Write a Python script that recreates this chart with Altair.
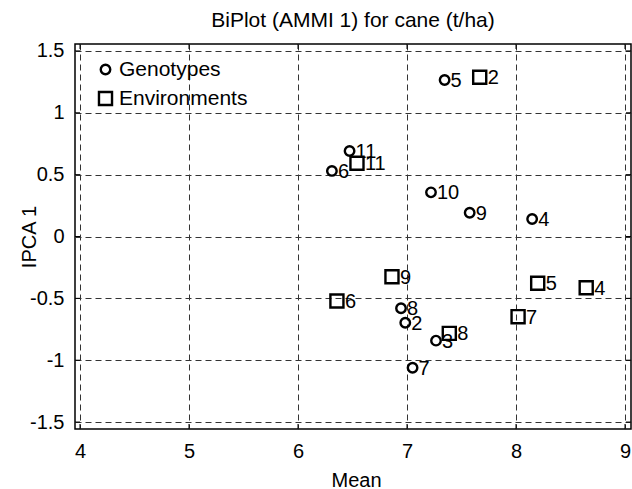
import altair as alt
import pandas as pd

# ---- data ----
genotype_ids = ["5", "11", "6", "10", "9", "4", "8", "2", "3", "7"]
genotype_mean = [7.345, 6.473, 6.311, 7.220, 7.575, 8.148, 6.945, 6.984, 7.266, 7.051]
genotype_ipca = [1.265, 0.691, 0.530, 0.357, 0.192, 0.141, -0.580, -0.697, -0.842, -1.061]

env_ids = ["2", "11", "9", "6", "8", "5", "4", "7"]
env_mean = [7.667, 6.541, 6.862, 6.357, 7.388, 8.199, 8.644, 8.019]
env_ipca = [1.287, 0.592, -0.325, -0.521, -0.783, -0.378, -0.414, -0.648]

x_ticks = [4, 5, 6, 7, 8, 9]
y_ticks = [-1.5, -1, -0.5, 0, 0.5, 1, 1.5]
groups = ["Genotypes", "Environments"]

FONT = "Liberation Sans"
W, H = 556, 385

df = pd.DataFrame(
    {
        "id": genotype_ids + env_ids,
        "mean": genotype_mean + env_mean,
        "ipca": genotype_ipca + env_ipca,
        "type": [groups[0]] * len(genotype_ids) + [groups[1]] * len(env_ids),
    }
)
xt = pd.DataFrame({"v": x_ticks})
yt = pd.DataFrame({"v": y_ticks})

xscale = alt.Scale(domain=[3.954, 9.055], nice=False, zero=False)
yscale = alt.Scale(domain=[-1.556, 1.556], nice=False, zero=False)

x_axis = alt.Axis(
    values=x_ticks, title="Mean", grid=True, ticks=False, domain=False,
    labelFontSize=20, labelPadding=12, labelFont=FONT, labelColor="black",
    labelExpr="'' + datum.value",
    titleFont=FONT, titleFontSize=20, titleFontWeight="normal", titleColor="black",
    titleBaseline="alphabetic", titleY=57, titleX=281,
)
y_axis = alt.Axis(
    values=y_ticks, title="IPCA 1", grid=True, ticks=False, domain=False,
    labelFontSize=20, labelPadding=11, labelFont=FONT, labelColor="black",
    labelExpr="'' + datum.value",
    titleFont=FONT, titleFontSize=20, titleFontWeight="normal", titleColor="black",
    titleBaseline="alphabetic", titleX=-40, titleY=H / 2, titleAngle=270,
)

base = alt.Chart(df)

points = base.mark_point(filled=False, color="black", strokeWidth=2.4, opacity=1).encode(
    x=alt.X("mean:Q", scale=xscale, axis=x_axis),
    y=alt.Y("ipca:Q", scale=yscale, axis=y_axis),
    shape=alt.Shape("type:N", scale=alt.Scale(domain=groups, range=["circle", "square"]),
                    legend=alt.Legend(title=None)),
    size=alt.Size("type:N", scale=alt.Scale(domain=groups, range=[90, 170]),
                  legend=alt.Legend(title=None)),
)

gen_labels = base.transform_filter(alt.datum.type == groups[0]).mark_text(
    align="left", baseline="middle", dx=6, dy=1, fontSize=20, font=FONT, color="black"
).encode(x=alt.X("mean:Q", scale=xscale), y=alt.Y("ipca:Q", scale=yscale), text="id:N")

env_labels = base.transform_filter(alt.datum.type == groups[1]).mark_text(
    align="left", baseline="middle", dx=8, dy=1, fontSize=20, font=FONT, color="black"
).encode(x=alt.X("mean:Q", scale=xscale), y=alt.Y("ipca:Q", scale=yscale), text="id:N")

tick_len = 5
bottom_ticks = alt.Chart(xt).mark_rule(color="black", strokeWidth=1).encode(
    x=alt.X("v:Q", scale=xscale), y=alt.value(H), y2=alt.value(H - tick_len))
top_ticks = alt.Chart(xt).mark_rule(color="black", strokeWidth=1).encode(
    x=alt.X("v:Q", scale=xscale), y=alt.value(0), y2=alt.value(tick_len))
left_ticks = alt.Chart(yt).mark_rule(color="black", strokeWidth=1).encode(
    y=alt.Y("v:Q", scale=yscale), x=alt.value(0), x2=alt.value(tick_len))
right_ticks = alt.Chart(yt).mark_rule(color="black", strokeWidth=1).encode(
    y=alt.Y("v:Q", scale=yscale), x=alt.value(W), x2=alt.value(W - tick_len))

chart = (
    alt.layer(bottom_ticks, top_ticks, left_ticks, right_ticks, points, gen_labels, env_labels)
    .properties(
        width=W,
        height=H,
        autosize=alt.AutoSizeParams(type="none"),
        padding={"left": 75, "top": 44, "right": 1, "bottom": 60},
        title=alt.TitleParams(
            "BiPlot (AMMI 1) for cane (t/ha)", font=FONT, fontSize=21,
            fontWeight="normal", color="black", anchor="middle", offset=10,
        ),
        background="white",
    )
    .configure_view(stroke="black", strokeWidth=1.5)
    .configure_axis(gridDash=[6, 4], gridColor="#333333", gridWidth=1, gridOpacity=1)
    .configure_legend(
        orient="none", legendX=20, legendY=15, labelFontSize=21, labelFont=FONT,
        labelColor="black", labelOffset=3, rowPadding=7, padding=0,
        symbolStrokeWidth=2.4, symbolStrokeColor="black",
    )
)

chart.save("out.html", embed_options={"renderer": "svg", "actions": False})
